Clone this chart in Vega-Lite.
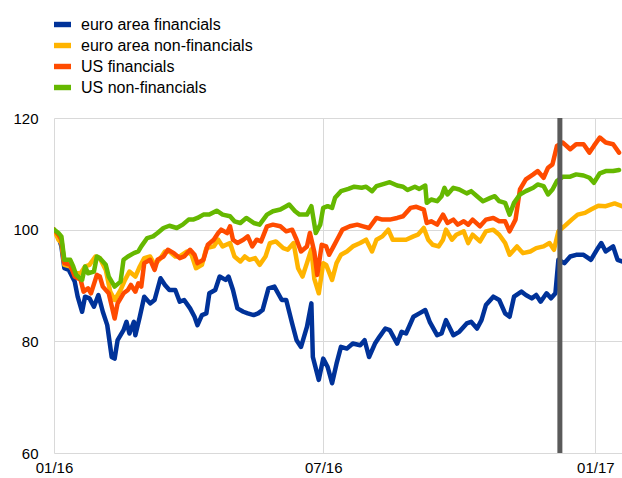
{
"$schema": "https://vega.github.io/schema/vega-lite/v6.json",
"width": 568, "height": 335,
"autosize": {"type": "none"},
"padding": {"left": 54, "top": 118, "right": 0, "bottom": 25},
"background": "white",
"config": {"view": {"stroke": null}, "font": "Liberation Sans"},
"layer": [
{
"data": {"values": [
{"date":"2016-01-01","series":"euro area financials","value":100},
{"date":"2016-01-04","series":"euro area financials","value":98.8},
{"date":"2016-01-06","series":"euro area financials","value":97},
{"date":"2016-01-08","series":"euro area financials","value":93.1},
{"date":"2016-01-11","series":"euro area financials","value":92.8},
{"date":"2016-01-15","series":"euro area financials","value":90.7},
{"date":"2016-01-17","series":"euro area financials","value":88},
{"date":"2016-01-20","series":"euro area financials","value":85.3},
{"date":"2016-01-22","series":"euro area financials","value":88},
{"date":"2016-01-25","series":"euro area financials","value":87.7},
{"date":"2016-01-28","series":"euro area financials","value":86.2},
{"date":"2016-01-31","series":"euro area financials","value":88.3},
{"date":"2016-02-03","series":"euro area financials","value":85.3},
{"date":"2016-02-06","series":"euro area financials","value":82.9},
{"date":"2016-02-09","series":"euro area financials","value":77.2},
{"date":"2016-02-11","series":"euro area financials","value":76.9},
{"date":"2016-02-13","series":"euro area financials","value":80.2},
{"date":"2016-02-17","series":"euro area financials","value":82},
{"date":"2016-02-19","series":"euro area financials","value":83.5},
{"date":"2016-02-21","series":"euro area financials","value":81.4},
{"date":"2016-02-24","series":"euro area financials","value":83.5},
{"date":"2016-02-25","series":"euro area financials","value":81.1},
{"date":"2016-02-28","series":"euro area financials","value":84.4},
{"date":"2016-03-02","series":"euro area financials","value":88},
{"date":"2016-03-06","series":"euro area financials","value":86.8},
{"date":"2016-03-09","series":"euro area financials","value":87.4},
{"date":"2016-03-13","series":"euro area financials","value":91.3},
{"date":"2016-03-16","series":"euro area financials","value":90.1},
{"date":"2016-03-19","series":"euro area financials","value":89.2},
{"date":"2016-03-23","series":"euro area financials","value":89.2},
{"date":"2016-03-26","series":"euro area financials","value":87.1},
{"date":"2016-03-29","series":"euro area financials","value":87.4},
{"date":"2016-04-02","series":"euro area financials","value":85.9},
{"date":"2016-04-05","series":"euro area financials","value":84.4},
{"date":"2016-04-07","series":"euro area financials","value":82.9},
{"date":"2016-04-10","series":"euro area financials","value":84.7},
{"date":"2016-04-13","series":"euro area financials","value":85},
{"date":"2016-04-15","series":"euro area financials","value":88.6},
{"date":"2016-04-19","series":"euro area financials","value":89.2},
{"date":"2016-04-22","series":"euro area financials","value":91.6},
{"date":"2016-04-26","series":"euro area financials","value":91},
{"date":"2016-04-28","series":"euro area financials","value":91.6},
{"date":"2016-05-01","series":"euro area financials","value":89.2},
{"date":"2016-05-04","series":"euro area financials","value":85.9},
{"date":"2016-05-08","series":"euro area financials","value":85.3},
{"date":"2016-05-11","series":"euro area financials","value":85},
{"date":"2016-05-15","series":"euro area financials","value":84.7},
{"date":"2016-05-18","series":"euro area financials","value":85},
{"date":"2016-05-21","series":"euro area financials","value":85.6},
{"date":"2016-05-25","series":"euro area financials","value":89.5},
{"date":"2016-05-29","series":"euro area financials","value":89.8},
{"date":"2016-06-03","series":"euro area financials","value":87.4},
{"date":"2016-06-06","series":"euro area financials","value":87.4},
{"date":"2016-06-10","series":"euro area financials","value":83.2},
{"date":"2016-06-13","series":"euro area financials","value":80.2},
{"date":"2016-06-16","series":"euro area financials","value":79},
{"date":"2016-06-20","series":"euro area financials","value":82.6},
{"date":"2016-06-23","series":"euro area financials","value":86.8},
{"date":"2016-06-24","series":"euro area financials","value":77.2},
{"date":"2016-06-28","series":"euro area financials","value":73.1},
{"date":"2016-07-01","series":"euro area financials","value":76.9},
{"date":"2016-07-04","series":"euro area financials","value":75.4},
{"date":"2016-07-07","series":"euro area financials","value":72.5},
{"date":"2016-07-10","series":"euro area financials","value":76},
{"date":"2016-07-13","series":"euro area financials","value":79},
{"date":"2016-07-17","series":"euro area financials","value":78.7},
{"date":"2016-07-21","series":"euro area financials","value":79.6},
{"date":"2016-07-26","series":"euro area financials","value":79.3},
{"date":"2016-07-29","series":"euro area financials","value":80.2},
{"date":"2016-08-01","series":"euro area financials","value":77.2},
{"date":"2016-08-05","series":"euro area financials","value":79.6},
{"date":"2016-08-08","series":"euro area financials","value":80.8},
{"date":"2016-08-12","series":"euro area financials","value":82.3},
{"date":"2016-08-15","series":"euro area financials","value":82},
{"date":"2016-08-20","series":"euro area financials","value":79.6},
{"date":"2016-08-23","series":"euro area financials","value":81.7},
{"date":"2016-08-26","series":"euro area financials","value":81.4},
{"date":"2016-08-31","series":"euro area financials","value":84.4},
{"date":"2016-09-04","series":"euro area financials","value":85},
{"date":"2016-09-08","series":"euro area financials","value":85.6},
{"date":"2016-09-11","series":"euro area financials","value":83.5},
{"date":"2016-09-16","series":"euro area financials","value":81.1},
{"date":"2016-09-19","series":"euro area financials","value":81.4},
{"date":"2016-09-22","series":"euro area financials","value":83.8},
{"date":"2016-09-27","series":"euro area financials","value":81.1},
{"date":"2016-10-01","series":"euro area financials","value":81.7},
{"date":"2016-10-06","series":"euro area financials","value":83.2},
{"date":"2016-10-09","series":"euro area financials","value":83.5},
{"date":"2016-10-13","series":"euro area financials","value":82.3},
{"date":"2016-10-16","series":"euro area financials","value":83.8},
{"date":"2016-10-19","series":"euro area financials","value":86.5},
{"date":"2016-10-24","series":"euro area financials","value":88},
{"date":"2016-10-28","series":"euro area financials","value":87.4},
{"date":"2016-11-01","series":"euro area financials","value":85},
{"date":"2016-11-04","series":"euro area financials","value":84.4},
{"date":"2016-11-07","series":"euro area financials","value":88},
{"date":"2016-11-12","series":"euro area financials","value":88.9},
{"date":"2016-11-15","series":"euro area financials","value":88.3},
{"date":"2016-11-19","series":"euro area financials","value":87.7},
{"date":"2016-11-22","series":"euro area financials","value":88.3},
{"date":"2016-11-25","series":"euro area financials","value":87.1},
{"date":"2016-11-29","series":"euro area financials","value":88.6},
{"date":"2016-12-02","series":"euro area financials","value":87.7},
{"date":"2016-12-05","series":"euro area financials","value":88.6},
{"date":"2016-12-07","series":"euro area financials","value":94.6},
{"date":"2016-12-11","series":"euro area financials","value":94},
{"date":"2016-12-15","series":"euro area financials","value":95.2},
{"date":"2016-12-19","series":"euro area financials","value":95.5},
{"date":"2016-12-24","series":"euro area financials","value":95.5},
{"date":"2016-12-29","series":"euro area financials","value":94.6},
{"date":"2017-01-02","series":"euro area financials","value":96.4},
{"date":"2017-01-05","series":"euro area financials","value":97.6},
{"date":"2017-01-08","series":"euro area financials","value":96.1},
{"date":"2017-01-13","series":"euro area financials","value":97},
{"date":"2017-01-16","series":"euro area financials","value":94.6},
{"date":"2017-01-19","series":"euro area financials","value":94.3},

{"date":"2016-01-01","series":"euro area non-financials","value":100},
{"date":"2016-01-04","series":"euro area non-financials","value":98.2},
{"date":"2016-01-06","series":"euro area non-financials","value":97.6},
{"date":"2016-01-08","series":"euro area non-financials","value":93.7},
{"date":"2016-01-12","series":"euro area non-financials","value":93.4},
{"date":"2016-01-15","series":"euro area non-financials","value":92.2},
{"date":"2016-01-19","series":"euro area non-financials","value":92.2},
{"date":"2016-01-22","series":"euro area non-financials","value":93.4},
{"date":"2016-01-25","series":"euro area non-financials","value":93.7},
{"date":"2016-01-29","series":"euro area non-financials","value":95.2},
{"date":"2016-02-01","series":"euro area non-financials","value":94.9},
{"date":"2016-02-05","series":"euro area non-financials","value":92.8},
{"date":"2016-02-08","series":"euro area non-financials","value":88.9},
{"date":"2016-02-11","series":"euro area non-financials","value":87.4},
{"date":"2016-02-15","series":"euro area non-financials","value":89.2},
{"date":"2016-02-18","series":"euro area non-financials","value":91},
{"date":"2016-02-21","series":"euro area non-financials","value":92.5},
{"date":"2016-02-25","series":"euro area non-financials","value":91.6},
{"date":"2016-02-28","series":"euro area non-financials","value":93.4},
{"date":"2016-03-02","series":"euro area non-financials","value":94.9},
{"date":"2016-03-06","series":"euro area non-financials","value":95.2},
{"date":"2016-03-09","series":"euro area non-financials","value":93.7},
{"date":"2016-03-13","series":"euro area non-financials","value":94.9},
{"date":"2016-03-16","series":"euro area non-financials","value":96.1},
{"date":"2016-03-19","series":"euro area non-financials","value":96.1},
{"date":"2016-03-23","series":"euro area non-financials","value":95.2},
{"date":"2016-03-26","series":"euro area non-financials","value":95.2},
{"date":"2016-03-31","series":"euro area non-financials","value":96.1},
{"date":"2016-04-03","series":"euro area non-financials","value":95.5},
{"date":"2016-04-06","series":"euro area non-financials","value":93.1},
{"date":"2016-04-10","series":"euro area non-financials","value":93.7},
{"date":"2016-04-13","series":"euro area non-financials","value":96.7},
{"date":"2016-04-18","series":"euro area non-financials","value":97},
{"date":"2016-04-21","series":"euro area non-financials","value":98.2},
{"date":"2016-04-24","series":"euro area non-financials","value":97},
{"date":"2016-04-29","series":"euro area non-financials","value":97.6},
{"date":"2016-05-02","series":"euro area non-financials","value":95.2},
{"date":"2016-05-06","series":"euro area non-financials","value":94.3},
{"date":"2016-05-09","series":"euro area non-financials","value":95.2},
{"date":"2016-05-12","series":"euro area non-financials","value":94.6},
{"date":"2016-05-16","series":"euro area non-financials","value":94.9},
{"date":"2016-05-19","series":"euro area non-financials","value":93.7},
{"date":"2016-05-23","series":"euro area non-financials","value":95.2},
{"date":"2016-05-26","series":"euro area non-financials","value":97.6},
{"date":"2016-05-30","series":"euro area non-financials","value":97.9},
{"date":"2016-06-04","series":"euro area non-financials","value":96.7},
{"date":"2016-06-07","series":"euro area non-financials","value":96.4},
{"date":"2016-06-11","series":"euro area non-financials","value":97.6},
{"date":"2016-06-14","series":"euro area non-financials","value":93.1},
{"date":"2016-06-17","series":"euro area non-financials","value":91.6},
{"date":"2016-06-20","series":"euro area non-financials","value":94},
{"date":"2016-06-23","series":"euro area non-financials","value":96.5},
{"date":"2016-06-25","series":"euro area non-financials","value":91.2},
{"date":"2016-06-28","series":"euro area non-financials","value":88.6},
{"date":"2016-07-01","series":"euro area non-financials","value":94},
{"date":"2016-07-03","series":"euro area non-financials","value":93.7},
{"date":"2016-07-07","series":"euro area non-financials","value":91},
{"date":"2016-07-10","series":"euro area non-financials","value":94},
{"date":"2016-07-13","series":"euro area non-financials","value":95.5},
{"date":"2016-07-17","series":"euro area non-financials","value":96.1},
{"date":"2016-07-21","series":"euro area non-financials","value":97},
{"date":"2016-07-26","series":"euro area non-financials","value":97.6},
{"date":"2016-07-30","series":"euro area non-financials","value":98.2},
{"date":"2016-08-03","series":"euro area non-financials","value":96.1},
{"date":"2016-08-06","series":"euro area non-financials","value":98.2},
{"date":"2016-08-10","series":"euro area non-financials","value":98.8},
{"date":"2016-08-14","series":"euro area non-financials","value":100},
{"date":"2016-08-17","series":"euro area non-financials","value":98.2},
{"date":"2016-08-22","series":"euro area non-financials","value":98.2},
{"date":"2016-08-26","series":"euro area non-financials","value":98.2},
{"date":"2016-08-31","series":"euro area non-financials","value":98.8},
{"date":"2016-09-03","series":"euro area non-financials","value":99.1},
{"date":"2016-09-07","series":"euro area non-financials","value":100.3},
{"date":"2016-09-10","series":"euro area non-financials","value":98.2},
{"date":"2016-09-13","series":"euro area non-financials","value":97.3},
{"date":"2016-09-17","series":"euro area non-financials","value":97},
{"date":"2016-09-20","series":"euro area non-financials","value":98.2},
{"date":"2016-09-22","series":"euro area non-financials","value":100},
{"date":"2016-09-26","series":"euro area non-financials","value":98.2},
{"date":"2016-09-29","series":"euro area non-financials","value":99.1},
{"date":"2016-10-04","series":"euro area non-financials","value":99.7},
{"date":"2016-10-07","series":"euro area non-financials","value":97.6},
{"date":"2016-10-10","series":"euro area non-financials","value":99.1},
{"date":"2016-10-15","series":"euro area non-financials","value":97.9},
{"date":"2016-10-19","series":"euro area non-financials","value":99.7},
{"date":"2016-10-24","series":"euro area non-financials","value":100},
{"date":"2016-10-28","series":"euro area non-financials","value":99.1},
{"date":"2016-11-01","series":"euro area non-financials","value":97.6},
{"date":"2016-11-04","series":"euro area non-financials","value":95.5},
{"date":"2016-11-09","series":"euro area non-financials","value":97},
{"date":"2016-11-13","series":"euro area non-financials","value":95.8},
{"date":"2016-11-18","series":"euro area non-financials","value":96.1},
{"date":"2016-11-22","series":"euro area non-financials","value":96.7},
{"date":"2016-11-27","series":"euro area non-financials","value":97},
{"date":"2016-12-01","series":"euro area non-financials","value":97.6},
{"date":"2016-12-04","series":"euro area non-financials","value":96.4},
{"date":"2016-12-07","series":"euro area non-financials","value":99.7},
{"date":"2016-12-11","series":"euro area non-financials","value":100.6},
{"date":"2016-12-16","series":"euro area non-financials","value":101.8},
{"date":"2016-12-20","series":"euro area non-financials","value":102.7},
{"date":"2016-12-25","series":"euro area non-financials","value":103},
{"date":"2016-12-29","series":"euro area non-financials","value":103.6},
{"date":"2017-01-03","series":"euro area non-financials","value":104.3},
{"date":"2017-01-08","series":"euro area non-financials","value":104.2},
{"date":"2017-01-14","series":"euro area non-financials","value":104.7},
{"date":"2017-01-19","series":"euro area non-financials","value":104.2},

{"date":"2016-01-01","series":"US financials","value":100},
{"date":"2016-01-04","series":"US financials","value":99.1},
{"date":"2016-01-06","series":"US financials","value":98.2},
{"date":"2016-01-08","series":"US financials","value":94},
{"date":"2016-01-12","series":"US financials","value":93.7},
{"date":"2016-01-15","series":"US financials","value":91.6},
{"date":"2016-01-19","series":"US financials","value":91},
{"date":"2016-01-21","series":"US financials","value":88.9},
{"date":"2016-01-24","series":"US financials","value":89.5},
{"date":"2016-01-26","series":"US financials","value":88.6},
{"date":"2016-01-30","series":"US financials","value":91.9},
{"date":"2016-02-01","series":"US financials","value":91.6},
{"date":"2016-02-03","series":"US financials","value":89.8},
{"date":"2016-02-07","series":"US financials","value":88.6},
{"date":"2016-02-11","series":"US financials","value":84.1},
{"date":"2016-02-13","series":"US financials","value":86.8},
{"date":"2016-02-17","series":"US financials","value":88.6},
{"date":"2016-02-20","series":"US financials","value":89.2},
{"date":"2016-02-22","series":"US financials","value":90.1},
{"date":"2016-02-25","series":"US financials","value":88.9},
{"date":"2016-02-27","series":"US financials","value":90.4},
{"date":"2016-02-29","series":"US financials","value":89.8},
{"date":"2016-03-02","series":"US financials","value":94},
{"date":"2016-03-06","series":"US financials","value":94.6},
{"date":"2016-03-09","series":"US financials","value":92.8},
{"date":"2016-03-11","series":"US financials","value":94.6},
{"date":"2016-03-15","series":"US financials","value":95.2},
{"date":"2016-03-18","series":"US financials","value":96.4},
{"date":"2016-03-22","series":"US financials","value":95.8},
{"date":"2016-03-26","series":"US financials","value":94.9},
{"date":"2016-03-29","series":"US financials","value":95.2},
{"date":"2016-04-02","series":"US financials","value":96.4},
{"date":"2016-04-05","series":"US financials","value":95.5},
{"date":"2016-04-07","series":"US financials","value":94},
{"date":"2016-04-11","series":"US financials","value":94.6},
{"date":"2016-04-14","series":"US financials","value":97.3},
{"date":"2016-04-18","series":"US financials","value":98.2},
{"date":"2016-04-21","series":"US financials","value":99.4},
{"date":"2016-04-23","series":"US financials","value":100},
{"date":"2016-04-27","series":"US financials","value":99.4},
{"date":"2016-04-29","series":"US financials","value":100.6},
{"date":"2016-05-01","series":"US financials","value":98.2},
{"date":"2016-05-04","series":"US financials","value":97.6},
{"date":"2016-05-08","series":"US financials","value":98.2},
{"date":"2016-05-11","series":"US financials","value":98.8},
{"date":"2016-05-14","series":"US financials","value":97},
{"date":"2016-05-17","series":"US financials","value":98.2},
{"date":"2016-05-20","series":"US financials","value":97.9},
{"date":"2016-05-24","series":"US financials","value":100.6},
{"date":"2016-05-28","series":"US financials","value":100.9},
{"date":"2016-06-02","series":"US financials","value":100.6},
{"date":"2016-06-06","series":"US financials","value":99.7},
{"date":"2016-06-10","series":"US financials","value":100},
{"date":"2016-06-13","series":"US financials","value":98.2},
{"date":"2016-06-16","series":"US financials","value":96.1},
{"date":"2016-06-20","series":"US financials","value":97},
{"date":"2016-06-22","series":"US financials","value":99.4},
{"date":"2016-06-25","series":"US financials","value":96},
{"date":"2016-06-27","series":"US financials","value":91.9},
{"date":"2016-06-30","series":"US financials","value":97.3},
{"date":"2016-07-03","series":"US financials","value":97},
{"date":"2016-07-05","series":"US financials","value":95.5},
{"date":"2016-07-08","series":"US financials","value":97},
{"date":"2016-07-11","series":"US financials","value":98.5},
{"date":"2016-07-14","series":"US financials","value":100},
{"date":"2016-07-19","series":"US financials","value":100.6},
{"date":"2016-07-24","series":"US financials","value":100.9},
{"date":"2016-07-28","series":"US financials","value":100.6},
{"date":"2016-08-01","series":"US financials","value":100.3},
{"date":"2016-08-06","series":"US financials","value":102.1},
{"date":"2016-08-10","series":"US financials","value":101.8},
{"date":"2016-08-15","series":"US financials","value":101.8},
{"date":"2016-08-20","series":"US financials","value":102.1},
{"date":"2016-08-24","series":"US financials","value":102.4},
{"date":"2016-08-29","series":"US financials","value":103.9},
{"date":"2016-09-02","series":"US financials","value":104.1},
{"date":"2016-09-07","series":"US financials","value":103.6},
{"date":"2016-09-09","series":"US financials","value":101.2},
{"date":"2016-09-12","series":"US financials","value":101.5},
{"date":"2016-09-16","series":"US financials","value":100.9},
{"date":"2016-09-20","series":"US financials","value":102.7},
{"date":"2016-09-23","series":"US financials","value":101.2},
{"date":"2016-09-27","series":"US financials","value":101.8},
{"date":"2016-09-30","series":"US financials","value":100.9},
{"date":"2016-10-04","series":"US financials","value":101.5},
{"date":"2016-10-07","series":"US financials","value":100.9},
{"date":"2016-10-10","series":"US financials","value":101.8},
{"date":"2016-10-15","series":"US financials","value":100.6},
{"date":"2016-10-19","series":"US financials","value":101.8},
{"date":"2016-10-24","series":"US financials","value":102.1},
{"date":"2016-10-28","series":"US financials","value":101.5},
{"date":"2016-11-01","series":"US financials","value":101.5},
{"date":"2016-11-04","series":"US financials","value":99.7},
{"date":"2016-11-08","series":"US financials","value":101.8},
{"date":"2016-11-11","series":"US financials","value":107.2},
{"date":"2016-11-15","series":"US financials","value":109},
{"date":"2016-11-20","series":"US financials","value":109.9},
{"date":"2016-11-23","series":"US financials","value":110.5},
{"date":"2016-11-27","series":"US financials","value":109.3},
{"date":"2016-11-30","series":"US financials","value":111.1},
{"date":"2016-12-03","series":"US financials","value":111.7},
{"date":"2016-12-06","series":"US financials","value":115},
{"date":"2016-12-10","series":"US financials","value":115.6},
{"date":"2016-12-15","series":"US financials","value":114.4},
{"date":"2016-12-19","series":"US financials","value":115.3},
{"date":"2016-12-24","series":"US financials","value":115.3},
{"date":"2016-12-28","series":"US financials","value":113.8},
{"date":"2016-12-31","series":"US financials","value":115},
{"date":"2017-01-04","series":"US financials","value":116.5},
{"date":"2017-01-08","series":"US financials","value":115.6},
{"date":"2017-01-13","series":"US financials","value":115.3},
{"date":"2017-01-17","series":"US financials","value":113.8},

{"date":"2016-01-01","series":"US non-financials","value":100},
{"date":"2016-01-04","series":"US non-financials","value":99.4},
{"date":"2016-01-06","series":"US non-financials","value":98.8},
{"date":"2016-01-08","series":"US non-financials","value":94.6},
{"date":"2016-01-12","series":"US non-financials","value":94.6},
{"date":"2016-01-14","series":"US non-financials","value":93.4},
{"date":"2016-01-16","series":"US non-financials","value":91.9},
{"date":"2016-01-20","series":"US non-financials","value":91},
{"date":"2016-01-22","series":"US non-financials","value":93.4},
{"date":"2016-01-24","series":"US non-financials","value":92.2},
{"date":"2016-01-28","series":"US non-financials","value":92.5},
{"date":"2016-01-30","series":"US non-financials","value":95.2},
{"date":"2016-02-01","series":"US non-financials","value":94.9},
{"date":"2016-02-05","series":"US non-financials","value":93.7},
{"date":"2016-02-07","series":"US non-financials","value":91.6},
{"date":"2016-02-11","series":"US non-financials","value":89.8},
{"date":"2016-02-15","series":"US non-financials","value":90.7},
{"date":"2016-02-17","series":"US non-financials","value":94.6},
{"date":"2016-02-20","series":"US non-financials","value":95.2},
{"date":"2016-02-24","series":"US non-financials","value":95.8},
{"date":"2016-02-27","series":"US non-financials","value":96.1},
{"date":"2016-02-29","series":"US non-financials","value":97},
{"date":"2016-03-04","series":"US non-financials","value":98.5},
{"date":"2016-03-08","series":"US non-financials","value":98.8},
{"date":"2016-03-11","series":"US non-financials","value":99.4},
{"date":"2016-03-15","series":"US non-financials","value":100.3},
{"date":"2016-03-19","series":"US non-financials","value":100.7},
{"date":"2016-03-24","series":"US non-financials","value":100.3},
{"date":"2016-03-28","series":"US non-financials","value":100.9},
{"date":"2016-04-01","series":"US non-financials","value":101.8},
{"date":"2016-04-04","series":"US non-financials","value":101.8},
{"date":"2016-04-07","series":"US non-financials","value":102.1},
{"date":"2016-04-11","series":"US non-financials","value":102.7},
{"date":"2016-04-15","series":"US non-financials","value":102.7},
{"date":"2016-04-20","series":"US non-financials","value":103.4},
{"date":"2016-04-24","series":"US non-financials","value":102.7},
{"date":"2016-04-29","series":"US non-financials","value":102.4},
{"date":"2016-05-02","series":"US non-financials","value":101.5},
{"date":"2016-05-06","series":"US non-financials","value":101.2},
{"date":"2016-05-10","series":"US non-financials","value":102.1},
{"date":"2016-05-15","series":"US non-financials","value":101.2},
{"date":"2016-05-19","series":"US non-financials","value":100.9},
{"date":"2016-05-24","series":"US non-financials","value":102.7},
{"date":"2016-05-28","series":"US non-financials","value":103.3},
{"date":"2016-06-02","series":"US non-financials","value":103.6},
{"date":"2016-06-06","series":"US non-financials","value":104.2},
{"date":"2016-06-08","series":"US non-financials","value":104.5},
{"date":"2016-06-12","series":"US non-financials","value":103.3},
{"date":"2016-06-15","series":"US non-financials","value":102.7},
{"date":"2016-06-20","series":"US non-financials","value":102.7},
{"date":"2016-06-23","series":"US non-financials","value":104.2},
{"date":"2016-06-26","series":"US non-financials","value":99.4},
{"date":"2016-06-29","series":"US non-financials","value":100.9},
{"date":"2016-07-01","series":"US non-financials","value":103.9},
{"date":"2016-07-04","series":"US non-financials","value":104.2},
{"date":"2016-07-07","series":"US non-financials","value":103.9},
{"date":"2016-07-09","series":"US non-financials","value":105.7},
{"date":"2016-07-13","series":"US non-financials","value":106.9},
{"date":"2016-07-18","series":"US non-financials","value":107.3},
{"date":"2016-07-22","series":"US non-financials","value":107.7},
{"date":"2016-07-27","series":"US non-financials","value":107.5},
{"date":"2016-07-30","series":"US non-financials","value":107.7},
{"date":"2016-08-03","series":"US non-financials","value":106.9},
{"date":"2016-08-06","series":"US non-financials","value":107.8},
{"date":"2016-08-10","series":"US non-financials","value":108.1},
{"date":"2016-08-15","series":"US non-financials","value":108.5},
{"date":"2016-08-20","series":"US non-financials","value":107.9},
{"date":"2016-08-24","series":"US non-financials","value":107.7},
{"date":"2016-08-27","series":"US non-financials","value":107.1},
{"date":"2016-09-01","series":"US non-financials","value":107.7},
{"date":"2016-09-04","series":"US non-financials","value":107.3},
{"date":"2016-09-08","series":"US non-financials","value":107.9},
{"date":"2016-09-09","series":"US non-financials","value":104.8},
{"date":"2016-09-12","series":"US non-financials","value":105.4},
{"date":"2016-09-16","series":"US non-financials","value":105.1},
{"date":"2016-09-19","series":"US non-financials","value":106},
{"date":"2016-09-21","series":"US non-financials","value":107.5},
{"date":"2016-09-23","series":"US non-financials","value":106.3},
{"date":"2016-09-27","series":"US non-financials","value":107.5},
{"date":"2016-10-01","series":"US non-financials","value":107.2},
{"date":"2016-10-06","series":"US non-financials","value":106.5},
{"date":"2016-10-09","series":"US non-financials","value":106.9},
{"date":"2016-10-13","series":"US non-financials","value":106},
{"date":"2016-10-17","series":"US non-financials","value":105.1},
{"date":"2016-10-22","series":"US non-financials","value":105.7},
{"date":"2016-10-25","series":"US non-financials","value":106},
{"date":"2016-10-28","series":"US non-financials","value":105.1},
{"date":"2016-11-01","series":"US non-financials","value":104.8},
{"date":"2016-11-04","series":"US non-financials","value":102.7},
{"date":"2016-11-07","series":"US non-financials","value":104.8},
{"date":"2016-11-11","series":"US non-financials","value":106.3},
{"date":"2016-11-15","series":"US non-financials","value":106.9},
{"date":"2016-11-20","series":"US non-financials","value":107.5},
{"date":"2016-11-23","series":"US non-financials","value":108.1},
{"date":"2016-11-27","series":"US non-financials","value":107.8},
{"date":"2016-11-30","series":"US non-financials","value":106.3},
{"date":"2016-12-03","series":"US non-financials","value":107.2},
{"date":"2016-12-06","series":"US non-financials","value":108.7},
{"date":"2016-12-10","series":"US non-financials","value":109.5},
{"date":"2016-12-15","series":"US non-financials","value":109.5},
{"date":"2016-12-19","series":"US non-financials","value":109.9},
{"date":"2016-12-24","series":"US non-financials","value":109.7},
{"date":"2016-12-28","series":"US non-financials","value":109.3},
{"date":"2016-12-31","series":"US non-financials","value":108.4},
{"date":"2017-01-04","series":"US non-financials","value":110.1},
{"date":"2017-01-08","series":"US non-financials","value":110.5},
{"date":"2017-01-13","series":"US non-financials","value":110.5},
{"date":"2017-01-17","series":"US non-financials","value":110.7}
]},
"mark": {"type": "line", "strokeWidth": 4.5, "strokeJoin": "round", "strokeCap": "round", "clip": true},
"encoding": {
"x": {"field": "date", "type": "temporal",
"scale": {"domain": [{"year": 2016, "month": 1, "date": 1}, {"year": 2017, "month": 1, "date": 19}]},
"axis": {"values": [{"year": 2016, "month": 1, "date": 1}, {"year": 2016, "month": 7, "date": 1}, {"year": 2017, "month": 1, "date": 1}],
"format": "%m/%y", "title": null, "ticks": false, "domain": false, "grid": true, "gridColor": "#d9d9d9", "gridWidth": 1,
"labelFontSize": 15, "labelPadding": 7, "labelColor": "#000000", "labelFlush": false, "labelFont": "Liberation Sans"}},
"y": {"field": "value", "type": "quantitative",
"scale": {"domain": [60, 120], "nice": false, "zero": false},
"axis": {"values": [60, 80, 100, 120], "title": null, "ticks": false, "domain": false, "grid": true, "gridColor": "#d9d9d9", "gridWidth": 1,
"labelFontSize": 15, "labelPadding": 16, "labelColor": "#000000", "labelFont": "Liberation Sans"}},
"color": {"field": "series", "type": "nominal",
"scale": {"domain": ["euro area financials", "euro area non-financials", "US financials", "US non-financials"],
"range": ["#003299", "#FFB400", "#FF4B00", "#65B800"]},
"legend": {"orient": "none", "legendX": 0, "legendY": -102, "title": null,
"symbolType": "M-1,-0.32L1,-0.32L1,0.32L-1,0.32Z", "symbolStrokeWidth": 0, "symbolSize": 289,
"labelFontSize": 16, "labelOffset": 10, "rowPadding": 4, "labelLimit": 400, "labelColor": "#000000", "labelFont": "Liberation Sans",
"encode": {"symbols": {"update": {"fill": {"scale": "color", "field": "value"}, "fillOpacity": {"value": 1}, "strokeWidth": {"value": 0}}}}}}
}
},
{
"data": {"values": [{"date": "2016-12-08"}]},
"mark": {"type": "rule", "strokeWidth": 5, "color": "#5a5a5a"},
"encoding": {"x": {"field": "date", "type": "temporal"}}
}
]
}
